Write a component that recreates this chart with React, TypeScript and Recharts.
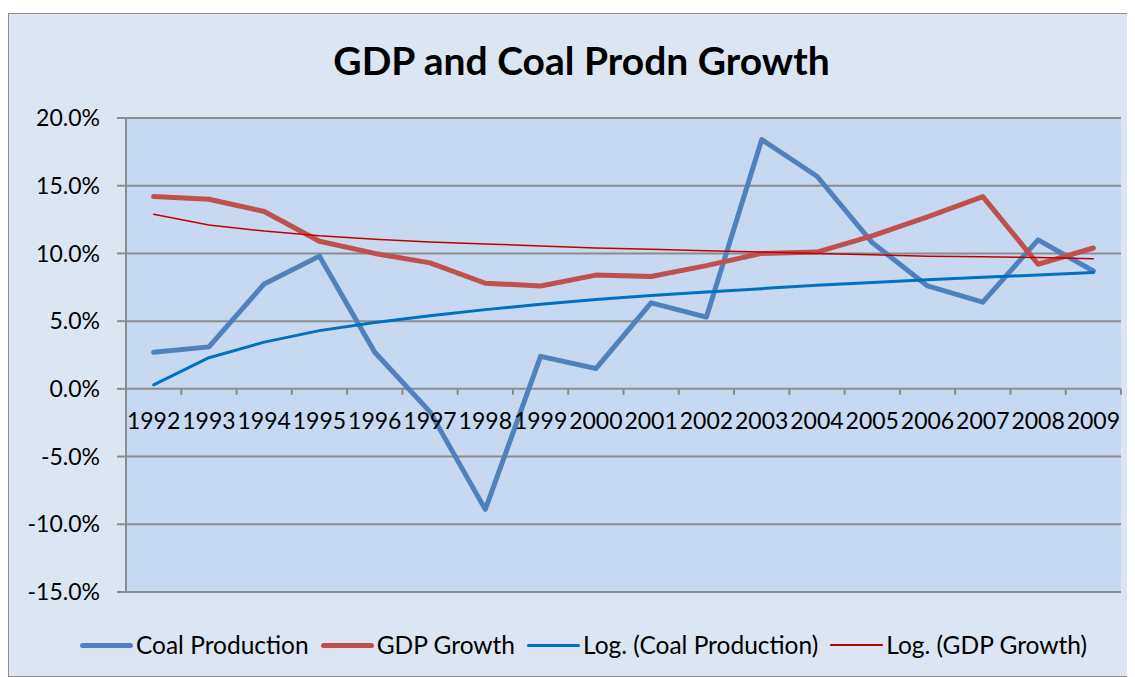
import * as React from "react";
import {
  LineChart,
  Line,
  XAxis,
  YAxis,
  CartesianGrid,
  ReferenceDot,
} from "recharts";

// Values (percent).
const years = [
  "1992", "1993", "1994", "1995", "1996", "1997", "1998", "1999", "2000",
  "2001", "2002", "2003", "2004", "2005", "2006", "2007", "2008", "2009",
];
const coalProduction = [
  2.7, 3.1, 7.75, 9.8, 2.7, -1.7, -8.9, 2.4, 1.5,
  6.35, 5.3, 18.4, 15.7, 10.8, 7.6, 6.4, 11.0, 8.7,
];
const gdpGrowth = [
  14.2, 14.0, 13.1, 10.9, 10.0, 9.3, 7.8, 7.6, 8.4,
  8.3, 9.1, 10.0, 10.1, 11.3, 12.7, 14.2, 9.2, 10.4,
];
const coalLogTrend = [
  0.3, 2.3, 3.45, 4.3, 4.9, 5.4, 5.85, 6.25, 6.6,
  6.9, 7.15, 7.4, 7.65, 7.85, 8.05, 8.25, 8.4, 8.6,
];
const gdpLogTrend = [
  12.9, 12.1, 11.65, 11.3, 11.05, 10.85, 10.7, 10.55, 10.4,
  10.3, 10.2, 10.1, 10.0, 9.9, 9.8, 9.75, 9.7, 9.6,
];
const yTicks = [-15, -10, -5, 0, 5, 10, 15, 20];

const data = years.map((year, i) => ({
  year,
  coal: coalProduction[i],
  gdp: gdpGrowth[i],
  coalLog: coalLogTrend[i],
  gdpLog: gdpLogTrend[i],
}));

const FONT = "Lato, 'Noto Sans', sans-serif";
const GRID = "#8c8c8c";
const W = 1125;
const H = 662;
const MARGIN = { top: 104, right: 13, bottom: 84, left: 0 };
const Y_AXIS_W = 117;
const BAND = (W - MARGIN.right - MARGIN.left - Y_AXIS_W) / years.length;

const SERIES = [
  { key: "coal", name: "Coal Production", color: "#4f81bd", width: 5 },
  { key: "gdp", name: "GDP Growth", color: "#c0504d", width: 5 },
  { key: "coalLog", name: "Log. (Coal Production)", color: "#0070c0", width: 3 },
  { key: "gdpLog", name: "Log. (GDP Growth)", color: "#c00000", width: 1.5 },
];

/** Category label + tick sitting on the zero line (Excel "axis crosses at 0"). */
function ZeroTick(props: any) {
  const { cx, cy, payload } = props;
  return (
    <g>
      <line x1={cx + BAND / 2} y1={cy} x2={cx + BAND / 2} y2={cy + 6} stroke={GRID} strokeWidth={2} />
      <text x={cx} y={cy + 40} textAnchor="middle" fontSize={23} fontFamily={FONT} fill="#000">
        {payload}
      </text>
    </g>
  );
}

function LegendRow() {
  return (
    <div
      style={{
        position: "absolute",
        top: 617,
        left: 12,
        width: W,
        display: "flex",
        justifyContent: "center",
        alignItems: "center",
        fontFamily: FONT,
        fontSize: 24.5,
        lineHeight: "28px",
        color: "#000",
        gap: 12,
      }}
    >
      {SERIES.map((s) => (
        <div key={s.key} style={{ display: "flex", alignItems: "center" }}>
          <span
            style={{
              display: "inline-block",
              width: 53,
              height: s.width,
              background: s.color,
              borderRadius: s.width / 2,
              marginRight: 3,
            }}
          />
          {s.name}
        </div>
      ))}
    </div>
  );
}

export default function App() {
  return (
    <div
      style={{
        position: "relative",
        width: 1127,
        height: 664,
        marginTop: 5,
        background: "#dce6f2",
        border: "1px solid #8e8e8e",
        boxSizing: "border-box",
      }}
    >
      <div
        style={{
          position: "absolute",
          top: 24,
          left: 10,
          width: W,
          textAlign: "center",
          fontFamily: FONT,
          fontWeight: 700,
          fontSize: 39,
          lineHeight: "44px",
          color: "#000",
        }}
      >
        GDP and Coal Prodn Growth
      </div>
      <div style={{ position: "absolute", left: 0, top: 0 }}>
        <LineChart width={W} height={H} data={data} margin={MARGIN}>
          <CartesianGrid vertical={false} stroke={GRID} strokeWidth={2} fill="#c6d9f0" fillOpacity={1} />
          <XAxis dataKey="year" hide padding={{ left: BAND / 2, right: BAND / 2 }} />
          <YAxis
            width={Y_AXIS_W}
            domain={[-15, 20]}
            ticks={yTicks}
            interval={0}
            tickFormatter={(v: number) => `${v.toFixed(1)}%`}
            axisLine={{ stroke: GRID, strokeWidth: 2 }}
            tickLine={{ stroke: GRID, strokeWidth: 2 }}
            tickSize={9}
            tickMargin={17}
            tick={{ fill: "#000", fontSize: 23, fontFamily: FONT }}
          />
          {years.map((y) => (
            <ReferenceDot
              key={y}
              x={y}
              y={0}
              r={0}
              shape={(p: any) => <ZeroTick {...p} payload={y} />}
            />
          ))}
          {SERIES.map((s) => (
            <Line
              key={s.key}
              dataKey={s.key}
              name={s.name}
              type="linear"
              stroke={s.color}
              strokeWidth={s.width}
              strokeLinejoin="round"
              strokeLinecap="round"
              dot={false}
              activeDot={false}
              isAnimationActive={false}
            />
          ))}
        </LineChart>
      </div>
      <LegendRow />
    </div>
  );
}
